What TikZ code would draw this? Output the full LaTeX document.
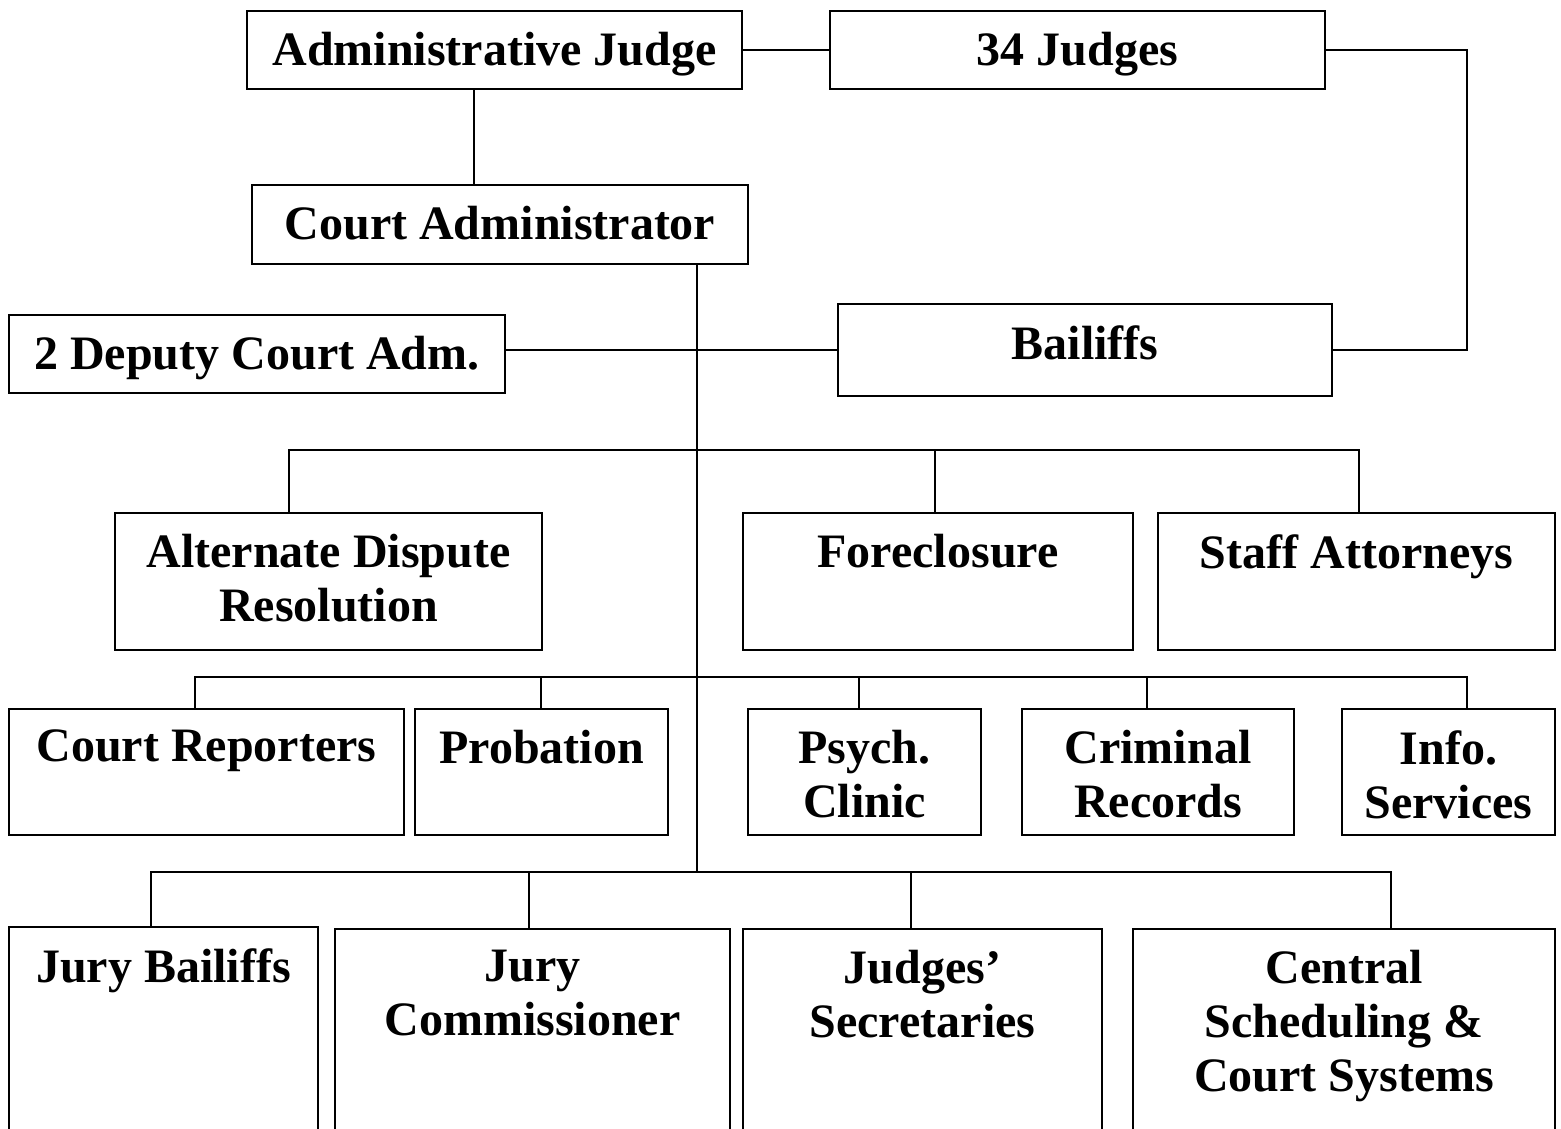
\documentclass[tikz,border=0pt]{standalone}
\usepackage{fontspec}
\setmainfont{Liberation Serif}
\usepackage{tikz}
\tikzset{
	node_unit/.style = {
		rectangle,
		draw=black,
		line width=2pt,
		inner sep=0pt,
		anchor=north west
	},
	node_text/.style = {
		anchor=north,
		align=center,
		inner sep=0pt,
		yshift=-22pt,
		font=\fontsize{48}{54}\selectfont\bfseries
	},
	node_link/.style = {
		draw=black,
		line width=2pt
	},
}
\begin{document}
\begin{tikzpicture}[x=1pt, y=-1pt]
\useasboundingbox (0,0) rectangle (1561,1128);
\clip (0,0) rectangle (1561,1128);
\node [node_unit, minimum width=495pt, minimum height=78pt, label={[node_text]north:{Administrative Judge}}] (admin) at (246,10) {};
\node [node_unit, minimum width=495pt, minimum height=78pt, label={[node_text]north:{34 Judges}}] (judges) at (829,10) {};
\node [node_unit, minimum width=496pt, minimum height=79pt, label={[node_text]north:{Court Administrator}}] (courtadm) at (251,184) {};
\node [node_unit, minimum width=496pt, minimum height=78pt, label={[node_text]north:{2 Deputy Court Adm.}}] (deputy) at (8,314) {};
\node [node_unit, minimum width=494pt, minimum height=92pt, label={[node_text]north:{Bailiffs}}] (bailiffs) at (837,303) {};
\node [node_unit, minimum width=427pt, minimum height=137pt, label={[node_text]north:{Alternate Dispute\\Resolution}}] (alt) at (114,512) {};
\node [node_unit, minimum width=390pt, minimum height=137pt, label={[node_text]north:{Foreclosure}}] (fore) at (742,512) {};
\node [node_unit, minimum width=397pt, minimum height=137pt, label={[node_text]north:{Staff Attorneys}}] (staff) at (1157,512) {};
\node [node_unit, minimum width=395pt, minimum height=126pt, label={[node_text]north:{Court Reporters}}] (rep) at (8,708) {};
\node [node_unit, minimum width=253pt, minimum height=126pt, label={[node_text]north:{Probation}}] (prob) at (414,708) {};
\node [node_unit, minimum width=233pt, minimum height=126pt, label={[node_text]north:{Psych.\\Clinic}}] (psych) at (747,708) {};
\node [node_unit, minimum width=272pt, minimum height=126pt, label={[node_text]north:{Criminal\\Records}}] (crim) at (1021,708) {};
\node [node_unit, minimum width=213pt, minimum height=126pt, label={[node_text]north:{Info.\\Services}}] (info) at (1341,708) {};
\node [node_unit, minimum width=309pt, minimum height=230pt, label={[node_text]north:{Jury Bailiffs}}] (jbail) at (8,926) {};
\node [node_unit, minimum width=395pt, minimum height=230pt, label={[node_text]north:{Jury\\Commissioner}}] (jcomm) at (334,928) {};
\node [node_unit, minimum width=359pt, minimum height=230pt, label={[node_text]north:{Judges’\\Secretaries}}] (jsec) at (742,928) {};
\node [node_unit, minimum width=422pt, minimum height=230pt, label={[node_text]north:{Central\\Scheduling \&\\Court Systems}}] (central) at (1132,928) {};

\draw [node_link] (admin.east) -- (judges.west);
\draw [node_link] (admin.south -| 474,0) -- (courtadm.north -| 474,0);
\draw [node_link] (judges.east) -- (judges.east -| 1467,0) |- (bailiffs.east);
\draw [node_link] (deputy.east |- bailiffs.west) -- (bailiffs.west);
\draw [node_link] (courtadm.south -| 697,0) -- (697,872);
\draw [node_link] (alt.north -| 289,0) -- (289,450) -- (1359,450) -- (staff.north -| 1359,0);
\draw [node_link] (935,450) -- (fore.north -| 935,0);
\draw [node_link] (rep.north -| 195,0) -- (195,677) -- (1467,677) -- (info.north -| 1467,0);
\foreach \x/\n in {541/prob, 859/psych, 1147/crim}
	\draw [node_link] (\x,677) -- (\n.north -| \x,0);
\draw [node_link] (jbail.north -| 151,0) -- (151,872) -- (1391,872) -- (central.north -| 1391,0);
\foreach \x/\n in {529/jcomm, 911/jsec}
	\draw [node_link] (\x,872) -- (\n.north -| \x,0);
\end{tikzpicture}
\end{document}
